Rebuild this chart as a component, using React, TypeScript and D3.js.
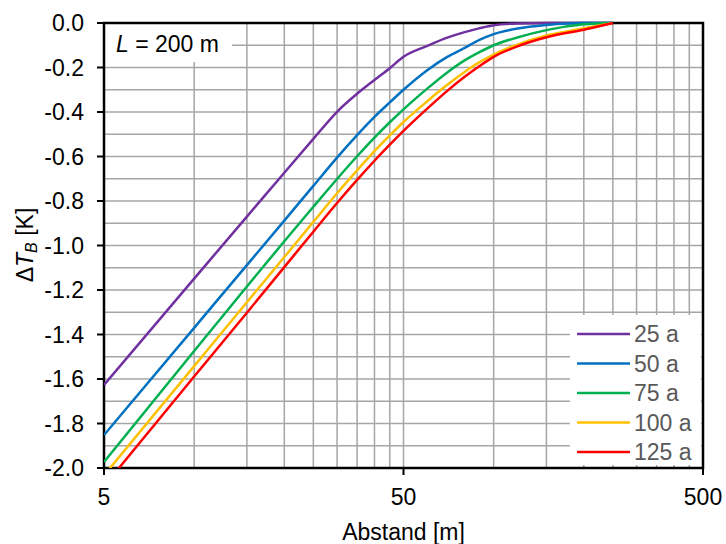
import React from "react";
import * as d3 from "d3";

const distances = [5, 10, 15, 20, 25, 30, 35, 40, 45, 50, 60, 70, 80, 90, 100, 120, 150, 200, 250];
const dT25 = [-1.627, -1.149, -0.870, -0.673, -0.521, -0.399, -0.318, -0.256, -0.203, -0.152, -0.103, -0.066, -0.041, -0.023, -0.010, -0.002, 0, 0, 0];
const dT50 = [-1.852, -1.370, -1.088, -0.888, -0.732, -0.605, -0.504, -0.422, -0.357, -0.300, -0.212, -0.152, -0.112, -0.075, -0.050, -0.025, -0.009, 0, 0];
const dT75 = [-1.973, -1.474, -1.184, -0.981, -0.826, -0.701, -0.599, -0.515, -0.446, -0.388, -0.295, -0.222, -0.168, -0.130, -0.100, -0.065, -0.032, -0.006, 0];
const dT100 = [-2.033, -1.542, -1.255, -1.052, -0.894, -0.765, -0.662, -0.576, -0.505, -0.445, -0.352, -0.278, -0.220, -0.175, -0.142, -0.097, -0.056, -0.024, 0];
const dT125 = [-2.082, -1.589, -1.302, -1.097, -0.938, -0.809, -0.705, -0.619, -0.547, -0.485, -0.385, -0.305, -0.242, -0.192, -0.152, -0.105, -0.064, -0.030, 0];

const seriesLabels = ["25 a", "50 a", "75 a", "100 a", "125 a"];
const seriesValues = [dT25, dT50, dT75, dT100, dT125];
const seriesColors = ["#7030A0", "#0070C0", "#00B050", "#FFC000", "#FF0000"];

const yTickValues = [0, -0.2, -0.4, -0.6, -0.8, -1.0, -1.2, -1.4, -1.6, -1.8, -2.0];
const xTickValues = [5, 50, 500];

const FONT = "'Liberation Sans', Arial, sans-serif";
const FS = 23;

export default function App() {
  const W = 726, H = 544;
  const left = 104, right = 703, top = 23, bottom = 468;
  const x = d3.scaleLog().domain([5, 500]).range([left, right]);
  const y = d3.scaleLinear().domain([-2, 0]).range([bottom, top]);

  const minorX: number[] = [];
  [5, 50].forEach((b) => {
    for (let k = 2; k <= 9; k++) minorX.push(b * k);
  });
  minorX.push(50);
  const minorY = d3.range(1, 20).map((i) => -i / 10);

  const line = d3
    .line<number>()
    .x((_, i) => x(distances[i]))
    .y((d) => y(d))
    .curve(d3.curveMonotoneX);

  const legendX = 570, legendY = 315, legendW = 131, legendH = 150;
  const legendRowY = (i: number) => 334 + i * 29.5;

  return (
    <svg
      width={W}
      height={H}
      style={{ position: "absolute", left: 0, top: 0, display: "block", background: "#fff" }}
      fontFamily={FONT}
    >
      <defs>
        <clipPath id="plotClip">
          <rect x={left} y={top - 3} width={right - left} height={bottom - top + 3} />
        </clipPath>
      </defs>
      <rect x={0} y={0} width={W} height={H} fill="#fff" />
      {/* grid */}
      <g stroke="#a6a6a6" strokeWidth={1.5}>
        {minorY.map((v) => (
          <line key={"gy" + v} x1={left} x2={right} y1={y(v)} y2={y(v)} />
        ))}
        {minorX.map((v) => (
          <line key={"gx" + v} x1={x(v)} x2={x(v)} y1={top} y2={bottom} />
        ))}
      </g>
      {/* text box */}
      <rect x={left + 1} y={top + 1} width={127} height={38} fill="#fff" />
      <text x={116} y={52} fontSize={FS} fill="#000">
        <tspan fontStyle="italic">L</tspan>
        <tspan> = 200 m</tspan>
      </text>
      {/* legend box */}
      <rect x={legendX} y={legendY} width={legendW} height={legendH} fill="#fff" />
      {seriesLabels.map((s, i) => (
        <g key={s}>
          <line x1={577} x2={630} y1={legendRowY(i)} y2={legendRowY(i)} stroke={seriesColors[i]} strokeWidth={2.5} />
          <text x={634} y={legendRowY(i)} dy="0.36em" fontSize={FS} fill="#595959">
            {s}
          </text>
        </g>
      ))}
      {/* border */}
      <rect x={left} y={top} width={right - left} height={bottom - top} fill="none" stroke="#000" strokeWidth={2.5} />
      {/* ticks */}
      <g stroke="#000" strokeWidth={2}>
        {yTickValues.map((v) => (
          <line key={"ty" + v} x1={left - 7} x2={left} y1={y(v)} y2={y(v)} />
        ))}
        {xTickValues.map((v) => (
          <line key={"tx" + v} x1={x(v)} x2={x(v)} y1={bottom} y2={bottom + 7} />
        ))}
      </g>
      {/* series */}
      <g clipPath="url(#plotClip)" fill="none">
        {seriesValues.map((vals, i) => (
          <path key={seriesLabels[i]} d={line(vals) || ""} stroke={seriesColors[i]} strokeWidth={2.5} strokeLinejoin="round" />
        ))}
      </g>
      {/* tick labels */}
      {yTickValues.map((v) => (
        <text key={"ly" + v} x={84} y={y(v)} dy="0.36em" textAnchor="end" fontSize={FS} fill="#000">
          {v.toFixed(1)}
        </text>
      ))}
      {xTickValues.map((v) => (
        <text key={"lx" + v} x={x(v)} y={505} textAnchor="middle" fontSize={FS} fill="#000">
          {String(v)}
        </text>
      ))}
      {/* axis titles */}
      <text x={(left + right) / 2} y={540} textAnchor="middle" fontSize={FS} fill="#000">
        Abstand [m]
      </text>
      <text transform={`translate(33, 245) rotate(-90)`} textAnchor="middle" fontSize={FS} fill="#000">
        <tspan>Δ</tspan>
        <tspan fontStyle="italic">T</tspan>
        <tspan fontStyle="italic" fontSize={16} dy={4}>B</tspan>
        <tspan dy={-4}> [K]</tspan>
      </text>
    </svg>
  );
}
